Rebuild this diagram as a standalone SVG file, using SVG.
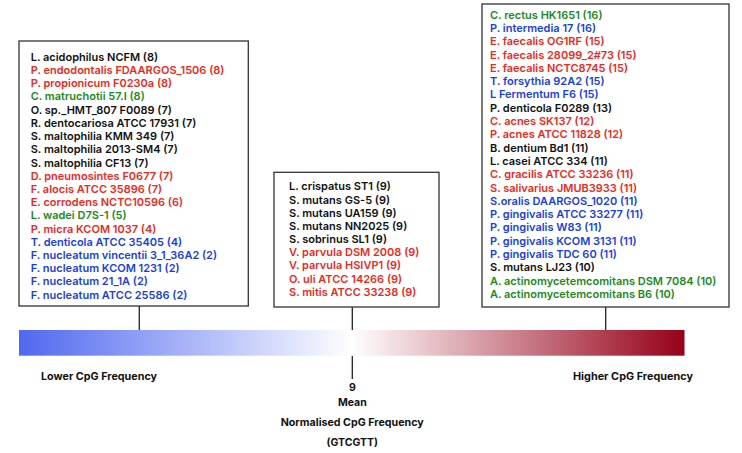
<svg xmlns="http://www.w3.org/2000/svg" width="742" height="453" viewBox="0 0 742 453">
<style>
text{font-family:Inter,"Noto Sans","Liberation Sans",sans-serif;font-weight:600;font-size:11px}
.k{fill:#111}.r{fill:#ea2a1c}.g{fill:#1a8a1a}.b{fill:#1a3ee0}
.box{fill:#fff;stroke:#333;stroke-width:1.3}
.ln{stroke:#222;stroke-width:1.3;fill:none}
.lab{fill:#111;font-size:10.5px;font-weight:700}
</style>
<defs>
<linearGradient id="grad" x1="0" y1="0" x2="1" y2="0">
<stop offset="0" stop-color="#5068f0"/>
<stop offset="0.5" stop-color="#ffffff"/>
<stop offset="1" stop-color="#960018"/>
</linearGradient>
</defs>
<rect x="19" y="330" width="665.5" height="25.7" fill="url(#grad)"/>
<g id="connectors">
<line class="ln" x1="139.3" y1="306" x2="139.3" y2="330"/>
<line class="ln" x1="352.3" y1="307" x2="352.3" y2="330"/>
<line class="ln" x1="605.7" y1="307" x2="605.7" y2="330"/>
<line class="ln" x1="352.3" y1="356" x2="352.3" y2="379"/>
</g>
<g id="low-box">
<rect class="box" x="19" y="41" width="229.3" height="265"/>
<text x="30.7" y="60.7" class="k">L. acidophilus NCFM (8)</text>
<text x="30.7" y="73.9" class="r">P. endodontalis FDAARGOS_1506 (8)</text>
<text x="30.7" y="87.1" class="r">P. propionicum F0230a (8)</text>
<text x="30.7" y="100.4" class="g">C. matruchotii 57.I (8)</text>
<text x="30.7" y="113.6" class="k">O. sp._HMT_807 F0089 (7)</text>
<text x="30.7" y="126.8" class="k">R. dentocariosa ATCC 17931 (7)</text>
<text x="30.7" y="140.0" class="k">S. maltophilia KMM 349 (7)</text>
<text x="30.7" y="153.2" class="k">S. maltophilia 2013-SM4 (7)</text>
<text x="30.7" y="166.5" class="k">S. maltophilia CF13 (7)</text>
<text x="30.7" y="179.7" class="r">D. pneumosintes F0677 (7)</text>
<text x="30.7" y="192.9" class="r">F. alocis ATCC 35896 (7)</text>
<text x="30.7" y="206.1" class="r">E. corrodens NCTC10596 (6)</text>
<text x="30.7" y="219.3" class="g">L. wadei D7S-1 (5)</text>
<text x="30.7" y="232.6" class="r">P. micra KCOM 1037 (4)</text>
<text x="30.7" y="245.8" class="b">T. denticola ATCC 35405 (4)</text>
<text x="30.7" y="259.0" class="b">F. nucleatum vincentii 3_1_36A2 (2)</text>
<text x="30.7" y="272.2" class="b">F. nucleatum KCOM 1231 (2)</text>
<text x="30.7" y="285.4" class="b">F. nucleatum 21_1A (2)</text>
<text x="30.7" y="298.7" class="b">F. nucleatum ATCC 25586 (2)</text>
</g>
<g id="mean-box">
<rect class="box" x="274" y="172.3" width="165" height="134.7"/>
<text x="289" y="190.4" class="k">L. crispatus ST1 (9)</text>
<text x="289" y="203.6" class="k">S. mutans GS-5 (9)</text>
<text x="289" y="216.7" class="k">S. mutans UA159 (9)</text>
<text x="289" y="229.9" class="k">S. mutans NN2025 (9)</text>
<text x="289" y="243.0" class="k">S. sobrinus SL1 (9)</text>
<text x="289" y="256.2" class="r">V. parvula DSM 2008 (9)</text>
<text x="289" y="269.4" class="r">V. parvula HSIVP1 (9)</text>
<text x="289" y="282.5" class="r">O. uli ATCC 14266 (9)</text>
<text x="289" y="295.7" class="r">S. mitis ATCC 33238 (9)</text>
</g>
<g id="high-box">
<rect class="box" x="482" y="4" width="247" height="303"/>
<text x="490" y="18.7" class="g">C. rectus HK1651 (16)</text>
<text x="490" y="32.0" class="b">P. intermedia 17 (16)</text>
<text x="490" y="45.3" class="r">E. faecalis OG1RF (15)</text>
<text x="490" y="58.6" class="r">E. faecalis 28099_2#73 (15)</text>
<text x="490" y="71.9" class="r">E. faecalis NCTC8745 (15)</text>
<text x="490" y="85.2" class="b">T. forsythia 92A2 (15)</text>
<text x="490" y="98.4" class="b">L Fermentum F6 (15)</text>
<text x="490" y="111.7" class="k">P. denticola F0289 (13)</text>
<text x="490" y="125.0" class="r">C. acnes SK137 (12)</text>
<text x="490" y="138.3" class="r">P. acnes ATCC 11828 (12)</text>
<text x="490" y="151.6" class="k">B. dentium Bd1 (11)</text>
<text x="490" y="164.9" class="k">L. casei ATCC 334 (11)</text>
<text x="490" y="178.2" class="r">C. gracilis ATCC 33236 (11)</text>
<text x="490" y="191.5" class="r">S. salivarius JMUB3933 (11)</text>
<text x="490" y="204.8" class="b">S.oralis DAARGOS_1020 (11)</text>
<text x="490" y="218.1" class="b">P. gingivalis ATCC 33277 (11)</text>
<text x="490" y="231.4" class="b">P. gingivalis W83 (11)</text>
<text x="490" y="244.7" class="b">P. gingivalis KCOM 3131 (11)</text>
<text x="490" y="257.9" class="b">P. gingivalis TDC 60 (11)</text>
<text x="490" y="271.2" class="k">S. mutans LJ23 (10)</text>
<text x="490" y="284.5" class="g">A. actinomycetemcomitans DSM 7084 (10)</text>
<text x="490" y="297.8" class="g">A. actinomycetemcomitans B6 (10)</text>
</g>
<g id="labels">
<text x="41" y="379.5" class="lab" textLength="116" lengthAdjust="spacingAndGlyphs">Lower CpG Frequency</text>
<text x="573" y="379.5" class="lab" textLength="120" lengthAdjust="spacingAndGlyphs">Higher CpG Frequency</text>
<text x="352.3" y="390.8" class="lab" text-anchor="middle">9</text>
<text x="352.3" y="405.5" class="lab" text-anchor="middle">Mean</text>
<text x="280.7" y="425.8" class="lab" textLength="143" lengthAdjust="spacingAndGlyphs">Normalised CpG Frequency</text>
<text x="352.3" y="445.5" class="lab" text-anchor="middle">(GTCGTT)</text>
</g>
</svg>
